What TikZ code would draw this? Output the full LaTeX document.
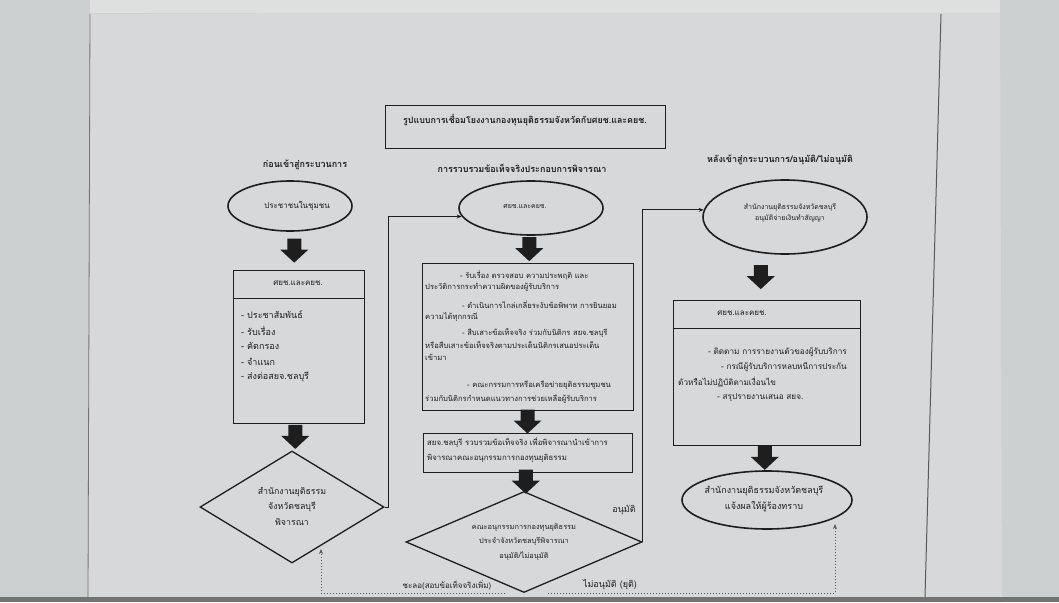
\documentclass[tikz,border=0pt]{standalone}
\usepackage{fontspec}
\newfontfamily\thai[Script=Thai]{Loma}
\usetikzlibrary{shapes.geometric,calc,arrows.meta}
\definecolor{ink}{HTML}{1E1E1E}
\definecolor{bgout}{HTML}{CDD0D1}
\definecolor{paper}{HTML}{D6D8D9}
\definecolor{topstrip}{HTML}{DEDFDF}
\begin{document}
\begin{tikzpicture}[x=1pt,y=-1pt,
  txt/.style={font=\thai\fontsize{#1}{#1}\selectfont, text=ink, inner sep=0pt},
  txt/.default=7.6,
  head/.style={font=\thai\bfseries\fontsize{#1}{#1}\selectfont, text=ink, inner sep=0pt},
  head/.default=9,
  ell/.style={draw=ink, line width=1.6pt, ellipse, inner sep=0pt},
  dia/.style={draw=ink, line width=1.3pt, diamond, inner sep=0pt},
  boxx/.style={draw=ink, line width=1pt, rectangle, inner sep=0pt},
  conn/.style={draw=ink, line width=0.9pt, -{Stealth[length=5pt,width=4pt]}},
  dotc/.style={draw=ink!75, line width=1pt, dotted, -{Stealth[length=5pt,width=4pt]}},
  bigarrow/.pic={\fill[ink] (-7,0) -- (7,0) -- (7,11) -- (14,11) -- (0,24) -- (-14,11) -- (-7,11) -- cycle;}
]
\useasboundingbox (0,0) rectangle (1059,602);
\fill[bgout] (0,0) rectangle (1059,602);
\fill[paper] (90,14) -- (1000,10) -- (1002,602) -- (88,602) -- cycle;
\fill[topstrip] (90,0) rectangle (1000,13);
\fill[black!55] (0,597) rectangle (1059,602);
\draw[black!55, line width=0.8pt] (90,14) -- (88,597);
\draw[black!65, line width=1pt] (941,14) -- (925,597);

% title
\node[boxx, minimum width=280pt, minimum height=43pt] (title) at (525,126.5) {};
\node[head=8.9] (titlet) at (525,120) {รูปแบบการเชื่อมโยงงานกองทุนยุติธรรมจังหวัดกับศยช.และคยช.};

% column headers
\node[head] (h1) at (305,165) {ก่อนเข้าสู่กระบวนการ};
\node[head] (h2) at (522,168) {การรวบรวมข้อเท็จจริงประกอบการพิจารณา};
\node[head] (h3) at (780,160) {หลังเข้าสู่กระบวนการ/อนุมัติ/ไม่อนุมัติ};

% left column
\node[ell, minimum width=124pt, minimum height=50pt] (le) at (290,206) {};
\node[txt=8] (let) at (297,206) {ประชาชนในชุมชน};
\node[boxx, minimum width=131pt, minimum height=153pt] (lb) at (298.5,346.5) {};
\draw[ink, line width=1pt] (lb.west |- 0,298) -- (lb.east |- 0,298);
\node[txt=8] (lbh) at (298,283) {ศยช.และคยช.};
\node[txt=9, anchor=west] (lb1) at (241,315) {- ประชาสัมพันธ์};
\node[txt=9, anchor=west] (lb2) at (241,331) {- รับเรื่อง};
\node[txt=9, anchor=west] (lb3) at (241,346) {- คัดกรอง};
\node[txt=9, anchor=west] (lb4) at (241,362) {- จำแนก};
\node[txt=9, anchor=west] (lb5) at (241,377) {- ส่งต่อสยจ.ชลบุรี};
\node[dia, minimum width=184pt, minimum height=112pt] (ld) at (292,507) {};
\node[txt=8.8, align=center] (ldt) at (292,506) {สำนักงานยุติธรรม\\[5pt]จังหวัดชลบุรี\\[5pt]พิจารณา};

% middle column
\node[ell, minimum width=144pt, minimum height=54pt] (me) at (531,208) {};
\node[txt=7] (met) at (525,206) {ศยช.และคยช.};
\node[boxx, minimum width=211pt, minimum height=147pt] (mb) at (527.5,336.5) {};
\node[txt, anchor=west] (m1) at (460,275) {- รับเรื่อง ตรวจสอบ ความประพฤติ และ};
\node[txt, anchor=west] (m2) at (425,287) {ประวัติการกระทำความผิดของผู้รับบริการ};
\node[txt, anchor=west] (m3) at (462,305) {- ดำเนินการไกล่เกลี่ยระงับข้อพิพาท การยินยอม};
\node[txt, anchor=west] (m4) at (425,317) {ความได้ทุกกรณี};
\node[txt, anchor=west] (m5) at (462,333) {- สืบเสาะข้อเท็จจริง ร่วมกับนิติกร สยจ.ชลบุรี};
\node[txt, anchor=west] (m6) at (425,345) {หรือสืบเสาะข้อเท็จจริงตามประเด็นนิติกรเสนอประเด็น};
\node[txt, anchor=west] (m7) at (425,357) {เข้ามา};
\node[txt, anchor=west] (m8) at (467,385) {- คณะกรรมการหรือเครือข่ายยุติธรรมชุมชน};
\node[txt, anchor=west] (m9) at (425,399) {ร่วมกับนิติกรกำหนดแนวทางการช่วยเหลือผู้รับบริการ};
\node[boxx, minimum width=209pt, minimum height=39pt] (mb2) at (527.5,452.5) {};
\node[txt=7.8, anchor=west] (n1) at (427,443) {สยจ.ชลบุรี รวบรวมข้อเท็จจริง เพื่อพิจารณานำเข้าการ};
\node[txt=7.8, anchor=west] (n2) at (427,458) {พิจารณาคณะอนุกรรมการกองทุนยุติธรรม};
\node[dia, minimum width=236pt, minimum height=101pt] (md) at (524,542) {};
\node[txt=7.4, align=center] (mdt) at (524,542) {คณะอนุกรรมการกองทุนยุติธรรม\\[5pt]ประจำจังหวัดชลบุรีพิจารณา\\[5pt]อนุมัติ/ไม่อนุมัติ};

% right column
\node[ell, minimum width=164pt, minimum height=74pt] (re) at (785,217) {};
\node[txt=7, align=center] (ret) at (790,213) {สำนักงานยุติธรรมจังหวัดชลบุรี\\[3pt]อนุมัติจ่ายเงินทำสัญญา};
\node[boxx, minimum width=187pt, minimum height=145pt] (rb) at (766.5,372.5) {};
\draw[ink, line width=1pt] (rb.west |- 0,328) -- (rb.east |- 0,328);
\node[txt=8] (rbh) at (742,313) {ศยช.และคยช.};
\node[txt=8.2, anchor=east] (r1) at (847,352) {- ติดตาม การรายงานตัวของผู้รับบริการ};
\node[txt=8.2, anchor=east] (r2) at (847,367) {- กรณีผู้รับบริการหลบหนีการประกัน};
\node[txt=8.2, anchor=west] (r3) at (678,382) {ตัวหรือไม่ปฏิบัติตามเงื่อนไข};
\node[txt=8.2, anchor=west] (r4) at (717,398) {- สรุปรายงานเสนอ สยจ.};
\node[ell, minimum width=170pt, minimum height=58pt] (rf) at (767,500) {};
\node[txt=9, align=center] (rft) at (764,499) {สำนักงานยุติธรรมจังหวัดชลบุรี\\[4pt]แจ้งผลให้ผู้ร้องทราบ};

% big block arrows
\pic at ($(le.south)!0.5!(lb.north)+(0,-12)$) {bigarrow};
\pic at ($(lb.south)!0.5!(ld.north)+(0,-12)$) {bigarrow};
\pic at ($(me.south)!0.5!(mb.north)+(0,-12)$) {bigarrow};
\pic at ($(mb.south)!0.5!(mb2.north)+(0,-12)$) {bigarrow};
\pic at ($(mb2.south)!0.5!(md.north)+(0,-12)$) {bigarrow};
\pic at ($(re.south)!0.5!(rb.north)+(-15,-12)$) {bigarrow};
\pic at ($(rb.south)!0.5!(rf.north)+(-2,-12)$) {bigarrow};

% connectors
\draw[conn] (ld.east) -- ++(4,0) |- (me.187);
\draw[conn] (md.east) |- (re.175);
\node[txt=9] (lab1) at (624,510) {อนุมัติ};
\coordinate (mdl) at (505,593);
\coordinate (ldin) at (321,549);
\draw[dotc] (mdl) -| (ldin);
\coordinate (mdr) at (548,593);
\coordinate (rfin) at (835,524);
\draw[dotc] (mdr) -| (rfin);
\node[txt=8] (lab2) at (447,585) {ชะลอ(สอบข้อเท็จจริงเพิ่ม)};
\node[txt=9] (lab3) at (610,585) {ไม่อนุมัติ (ยุติ)};
\end{tikzpicture}
\end{document}
